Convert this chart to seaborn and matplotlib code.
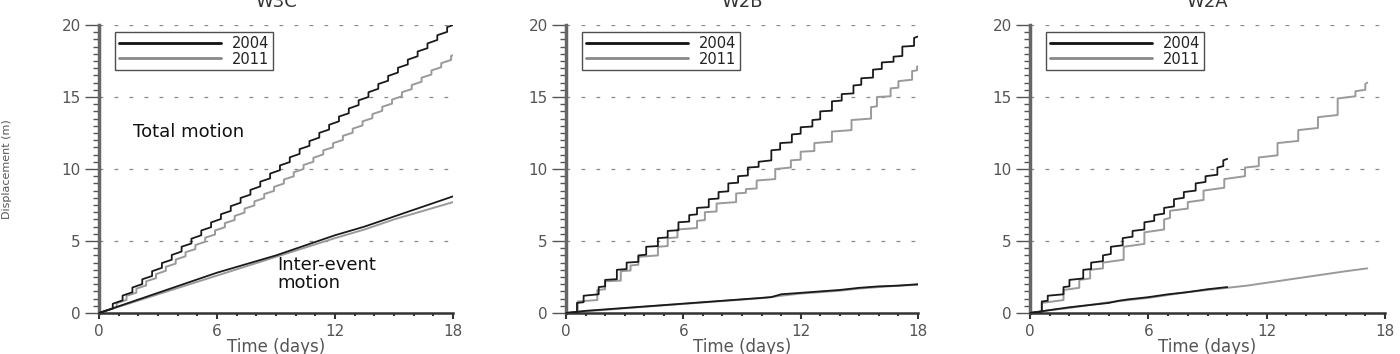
import matplotlib
matplotlib.use("Agg")
import matplotlib.pyplot as plt
from matplotlib.lines import Line2D
from matplotlib.ticker import MultipleLocator
import seaborn as sns

panels = ["W3C", "W2B", "W2A"]
years = ["2004", "2011"]
xticks = [0, 6, 12, 18]
yticks = [0, 5, 10, 15, 20]

# total motion: event times, displacement just before / after each event, and the end point
w3c_2004_t = [0.7, 1.2, 1.7, 2.2, 2.7, 3.2, 3.7, 4.2, 4.7, 5.2, 5.7, 6.2, 6.7, 7.2, 7.7, 8.2, 8.7, 9.2,
              9.7, 10.2, 10.7, 11.2, 11.7, 12.2, 12.7, 13.2, 13.7, 14.2, 14.7, 15.2, 15.7, 16.2, 16.7, 17.2, 17.7]
w3c_2004_lo = [0.31, 0.88, 1.44, 2.01, 2.57, 3.14, 3.70, 4.27, 4.83, 5.40, 5.96, 6.53, 7.09, 7.66, 8.22, 8.79,
               9.35, 9.92, 10.48, 11.05, 11.61, 12.18, 12.74, 13.31, 13.87, 14.44, 15.00, 15.57, 16.13, 16.70,
               17.26, 17.83, 18.39, 18.96, 19.52]
w3c_2004_hi = [0.64, 1.21, 1.77, 2.34, 2.90, 3.47, 4.03, 4.60, 5.16, 5.73, 6.29, 6.86, 7.42, 7.99, 8.55, 9.12,
               9.68, 10.25, 10.81, 11.38, 11.94, 12.51, 13.07, 13.64, 14.20, 14.77, 15.33, 15.90, 16.46, 17.03,
               17.59, 18.16, 18.72, 19.29, 19.85]
w3c_2004_end = (18.0, 20.0)

w3c_2011_t = [0.9, 1.4, 1.9, 2.4, 2.9, 3.4, 3.9, 4.4, 4.9, 5.4, 5.9, 6.4, 6.9, 7.4, 7.9, 8.4, 8.9, 9.4,
              9.9, 10.4, 10.9, 11.4, 11.9, 12.4, 12.9, 13.4, 13.9, 14.4, 14.9, 15.4, 15.9, 16.4, 16.9, 17.4, 17.9]
w3c_2011_lo = [0.40, 0.91, 1.41, 1.92, 2.42, 2.93, 3.43, 3.94, 4.44, 4.95, 5.45, 5.96, 6.46, 6.97, 7.47, 7.98,
               8.48, 8.99, 9.49, 10.00, 10.50, 11.01, 11.51, 12.02, 12.52, 13.03, 13.53, 14.04, 14.54, 15.05,
               15.55, 16.06, 16.56, 17.07, 17.57]
w3c_2011_hi = [0.68, 1.19, 1.69, 2.20, 2.70, 3.21, 3.71, 4.22, 4.72, 5.23, 5.73, 6.24, 6.74, 7.25, 7.75, 8.26,
               8.76, 9.27, 9.77, 10.28, 10.78, 11.29, 11.79, 12.30, 12.80, 13.31, 13.81, 14.32, 14.82, 15.33,
               15.83, 16.34, 16.84, 17.35, 17.85]
w3c_2011_end = (18.0, 17.9)

w2b_2004_t = [0.56, 0.9, 1.67, 2.0, 2.6, 3.1, 3.7, 4.1, 4.7, 5.2, 5.75, 6.3, 6.7, 7.3, 7.8, 8.3, 8.8, 9.3,
              9.85, 10.5, 10.95, 11.55, 12.0, 12.6, 13.0, 13.6, 14.1, 14.7, 15.1, 15.7, 16.15, 16.75, 17.2, 17.8]
w2b_2004_lo = [0.05, 0.75, 1.3, 1.85, 2.35, 3.05, 3.55, 4.05, 4.65, 5.25, 5.75, 6.35, 6.85, 7.35, 7.95, 8.45,
               9.05, 9.55, 10.15, 10.6, 11.35, 11.85, 12.45, 12.95, 13.45, 14.05, 14.75, 15.25, 15.85, 16.35,
               16.95, 17.45, 17.85, 18.55]
w2b_2004_hi = [0.7, 1.2, 1.8, 2.3, 3.0, 3.5, 4.0, 4.6, 5.2, 5.7, 6.3, 6.8, 7.3, 7.9, 8.4, 9.0, 9.5, 10.1,
               10.5, 11.3, 11.8, 12.4, 12.9, 13.4, 14.0, 14.7, 15.2, 15.8, 16.3, 16.9, 17.4, 17.8, 18.5, 19.1]
w2b_2004_end = (18.0, 19.2)

w2b_2011_t = [0.6, 1.6, 2.0, 2.8, 3.3, 3.7, 4.7, 5.2, 5.7, 6.7, 7.1, 7.7, 8.7, 9.2, 9.75, 10.7, 11.5, 12.0,
              12.7, 13.6, 14.6, 15.6, 15.9, 16.6, 17.0, 17.7, 17.95]
w2b_2011_lo = [0.05, 0.9, 1.65, 2.25, 2.95, 3.35, 4.0, 4.65, 5.25, 5.9, 6.45, 7.05, 7.7, 8.35, 8.65, 9.3, 10.1,
               10.65, 11.25, 11.9, 12.7, 13.5, 14.35, 15.05, 15.65, 16.2, 16.85]
w2b_2011_hi = [0.8, 1.6, 2.2, 2.9, 3.3, 3.9, 4.6, 5.2, 5.8, 6.4, 7.0, 7.6, 8.3, 8.6, 9.2, 10.0, 10.6, 11.2,
               11.8, 12.6, 13.4, 14.3, 15.0, 15.6, 16.1, 16.8, 17.1]
w2b_2011_end = (18.0, 17.15)

w2a_2004_t = [0.6, 0.9, 1.7, 2.0, 2.7, 3.1, 3.7, 4.1, 4.7, 5.2, 5.8, 6.3, 6.8, 7.3, 7.8, 8.4, 8.9, 9.5, 9.8]
w2a_2004_lo = [0.1, 0.85, 1.3, 1.85, 2.4, 3.05, 3.6, 4.1, 4.7, 5.3, 5.8, 6.4, 6.9, 7.4, 8.0, 8.5, 9.1, 9.6, 10.2]
w2a_2004_hi = [0.8, 1.2, 1.8, 2.3, 3.0, 3.5, 4.0, 4.6, 5.2, 5.7, 6.3, 6.8, 7.3, 7.9, 8.4, 9.0, 9.5, 10.1, 10.6]
w2a_2004_end = (10.0, 10.7)

w2a_2011_t = [0.6, 1.7, 2.5, 3.05, 3.7, 4.75, 5.8, 6.8, 7.1, 8.0, 8.8, 9.85, 10.9, 11.6, 12.55, 13.6, 14.6,
              15.6, 16.5, 17.0]
w2a_2011_lo = [0.1, 0.9, 1.75, 2.4, 3.1, 3.7, 4.8, 5.8, 6.6, 7.25, 7.85, 8.7, 9.5, 10.2, 10.95, 11.95, 12.85,
               13.75, 15.05, 15.5]
w2a_2011_hi = [0.7, 1.6, 2.3, 3.0, 3.5, 4.6, 5.6, 6.5, 7.1, 7.7, 8.5, 9.3, 10.1, 10.8, 11.8, 12.7, 13.6,
               14.9, 15.4, 15.9]
w2a_2011_end = (17.1, 16.0)

# inter-event motion
w3c_2004_it = [0, 1.5, 3, 4.5, 6, 7.5, 9, 10.5, 12, 13.5, 15, 16.5, 18]
w3c_2004_id = [0, 0.7, 1.4, 2.1, 2.8, 3.4, 4.0, 4.7, 5.4, 6.0, 6.7, 7.4, 8.1]
w3c_2011_it = [0, 1.5, 3, 4.5, 6, 7.5, 9, 10.5, 12, 13.5, 15, 16.5, 18]
w3c_2011_id = [0, 0.65, 1.3, 1.95, 2.6, 3.25, 3.9, 4.55, 5.2, 5.8, 6.5, 7.1, 7.7]

w2b_2004_it = [0, 1, 2, 3, 4, 5, 6, 7, 8, 9, 10, 10.5, 11, 12, 13, 14, 15, 16, 17, 18]
w2b_2004_id = [0, 0.15, 0.25, 0.35, 0.45, 0.55, 0.65, 0.75, 0.85, 0.95, 1.05, 1.1, 1.3, 1.4, 1.5, 1.6,
               1.75, 1.85, 1.9, 2.0]
w2b_2011_it = [0, 1, 2, 3, 4, 5, 6, 7, 8, 9, 10, 11, 12, 13, 14, 15, 16, 17, 18]
w2b_2011_id = [0, 0.12, 0.22, 0.33, 0.43, 0.53, 0.63, 0.73, 0.83, 0.93, 1.03, 1.2, 1.35, 1.45, 1.55, 1.7,
               1.8, 1.9, 1.95]

w2a_2004_it = [0, 1, 2, 3, 4, 4.5, 5, 6, 7, 8, 9, 10]
w2a_2004_id = [0, 0.2, 0.4, 0.55, 0.7, 0.85, 0.95, 1.1, 1.3, 1.45, 1.65, 1.8]
w2a_2011_it = [0, 1, 2, 3, 4, 5, 6, 7, 8, 9, 10, 11, 12, 13, 14, 15, 16, 17.1]
w2a_2011_id = [0, 0.2, 0.35, 0.55, 0.75, 0.9, 1.05, 1.25, 1.45, 1.6, 1.75, 1.9, 2.1, 2.3, 2.5, 2.7, 2.9, 3.1]

totals = {
    "W3C": [(w3c_2004_t, w3c_2004_lo, w3c_2004_hi, w3c_2004_end), (w3c_2011_t, w3c_2011_lo, w3c_2011_hi, w3c_2011_end)],
    "W2B": [(w2b_2004_t, w2b_2004_lo, w2b_2004_hi, w2b_2004_end), (w2b_2011_t, w2b_2011_lo, w2b_2011_hi, w2b_2011_end)],
    "W2A": [(w2a_2004_t, w2a_2004_lo, w2a_2004_hi, w2a_2004_end), (w2a_2011_t, w2a_2011_lo, w2a_2011_hi, w2a_2011_end)],
}
inters = {
    "W3C": [(w3c_2004_it, w3c_2004_id), (w3c_2011_it, w3c_2011_id)],
    "W2B": [(w2b_2004_it, w2b_2004_id), (w2b_2011_it, w2b_2011_id)],
    "W2A": [(w2a_2004_it, w2a_2004_id), (w2a_2011_it, w2a_2011_id)],
}

colors = ["#1a1a1a", "#9a9a9a"]
widths = [1.3, 1.4]


def stairs(t, lo, hi, end):
    xs, ys = [0.0], [0.0]
    for ti, a, b in zip(t, lo, hi):
        xs += [ti, ti]
        ys += [a, b]
    xs.append(end[0])
    ys.append(end[1])
    return xs, ys


sns.set_theme(style="ticks")
plt.rcParams['font.family'] = ['DejaVu Sans']

fig = plt.figure(figsize=(14, 3.54), dpi=100)
lefts = [0.0707, 0.4043, 0.7357]
widths_ax = [0.2529, 0.2514, 0.2536]

for i, name in enumerate(panels):
    ax = fig.add_axes([lefts[i], 0.1158, widths_ax[i], 0.8136])
    for k in range(2):
        xs, ys = stairs(*totals[name][k])
        sns.lineplot(x=xs, y=ys, ax=ax, sort=False, estimator=None, color=colors[k],
                     linewidth=widths[k], zorder=3 - k)
        it, idv = inters[name][k]
        sns.lineplot(x=it, y=idv, ax=ax, sort=False, estimator=None, color=colors[k],
                     linewidth=widths[k], zorder=3 - k)

    ax.set_xlim(0, 18)
    ax.set_ylim(0, 20)
    ax.set_xticks(xticks)
    ax.set_yticks(yticks)
    ax.xaxis.set_minor_locator(MultipleLocator(1))
    ax.yaxis.set_minor_locator(MultipleLocator(0.5))
    ax.tick_params(axis="y", which="major", length=10, width=1, color="#555555", pad=3,
                   labelsize=11, labelcolor="#555555")
    ax.tick_params(axis="y", which="minor", length=4.5, width=1, color="#555555")
    ax.tick_params(axis="x", which="major", length=4, width=1.5, color="#333333", pad=4,
                   labelsize=11, labelcolor="#555555")
    ax.tick_params(axis="x", which="minor", length=2, width=1.5, color="#333333")
    for yv in yticks[1:]:
        ax.axhline(yv, color="#888888", linewidth=0.9, linestyle=(0, (3, 9)), zorder=1)

    sns.despine(ax=ax)
    ax.spines["left"].set_linewidth(2.5)
    ax.spines["left"].set_color("#666666")
    ax.spines["bottom"].set_linewidth(1.8)
    ax.spines["bottom"].set_color("#333333")

    ax.set_title(name, fontsize=13, color="#333333", pad=13)
    ax.set_xlabel("Time (days)", fontsize=12, color="#555555", labelpad=-1)
    if i == 0:
        ax.set_ylabel("Displacement (m)", fontsize=8, color="#555555", labelpad=36)
        ax.text(1.75, 12.6, "Total motion", fontsize=13, color="#111111", va="center")
        ax.text(9.05, 2.7, "Inter-event\nmotion", fontsize=13, color="#111111", va="center",
                linespacing=1.0)
    else:
        ax.set_ylabel("")

    handles = [Line2D([], [], color="#111111", linewidth=2),
               Line2D([], [], color="#888888", linewidth=2)]
    leg = ax.legend(handles, years, loc="upper left", bbox_to_anchor=(0.045, 0.975), borderaxespad=0,
                    fontsize=10.5, handlelength=7, handletextpad=0.8, borderpad=0.25,
                    labelspacing=0.05, frameon=True, fancybox=False)
    leg.get_frame().set_edgecolor("#222222")
    leg.get_frame().set_linewidth(1.0)
    for txt in leg.get_texts():
        txt.set_color("#222222")

fig.savefig("out.png", dpi=100)
